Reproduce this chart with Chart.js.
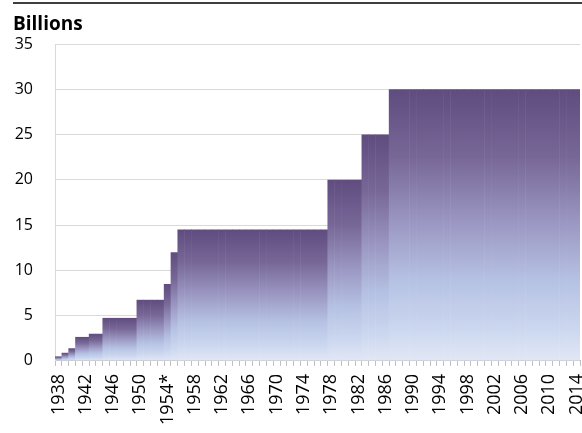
<!DOCTYPE html>
<html>
<head>
<meta charset="utf-8">
<script src="https://cdn.jsdelivr.net/npm/chart.js@4/dist/chart.umd.min.js"></script>
<style>
  html, body { margin: 0; padding: 0; background: #fff; }
  #wrap { width: 582px; height: 433px; position: relative; }
</style>
</head>
<body>
<div id="wrap"><canvas id="myChart"></canvas></div>
<script>
// years on the x axis (one bar per year)
const years = [
  "1938", "1939", "1940", "1941", "1942", "1943", "1944", "1945", "1946", "1947",
  "1948", "1949", "1950", "1951", "1952", "1953", "1954*", "1955", "1956", "1957",
  "1958", "1959", "1960", "1961", "1962", "1963", "1964", "1965", "1966", "1967",
  "1968", "1969", "1970", "1971", "1972", "1973", "1974", "1975", "1976", "1977",
  "1978", "1979", "1980", "1981", "1982", "1983", "1984", "1985", "1986", "1987",
  "1988", "1989", "1990", "1991", "1992", "1993", "1994", "1995", "1996", "1997",
  "1998", "1999", "2000", "2001", "2002", "2003", "2004", "2005", "2006", "2007",
  "2008", "2009", "2010", "2011", "2012", "2013", "2014"
];

// billions
const billions = [
  0.5, 0.9, 1.4, 2.65, 2.65, 3, 3, 4.75, 4.75, 4.75,
  4.75, 4.75, 6.75, 6.75, 6.75, 6.75, 8.5, 12, 14.5, 14.5,
  14.5, 14.5, 14.5, 14.5, 14.5, 14.5, 14.5, 14.5, 14.5, 14.5,
  14.5, 14.5, 14.5, 14.5, 14.5, 14.5, 14.5, 14.5, 14.5, 14.5,
  20, 20, 20, 20, 20, 25, 25, 25, 25, 30,
  30, 30, 30, 30, 30, 30, 30, 30, 30, 30,
  30, 30, 30, 30, 30, 30, 30, 30, 30, 30,
  30, 30, 30, 30, 30, 30, 30
];

const yTicks = [0, 5, 10, 15, 20, 25, 30, 35];

const ctx = document.getElementById("myChart").getContext("2d");

// each step gets its own gradient, from its top down to zero
const gradCache = {};
function barFill(context) {
  const chart = context.chart;
  if (!chart.chartArea) return "#9c99c4";
  const v = context.raw;
  const y = chart.scales.y;
  const top = y.getPixelForValue(v);
  const bottom = y.getPixelForValue(0);
  const key = v + "_" + top;
  if (gradCache[key]) return gradCache[key];
  const g = chart.ctx.createLinearGradient(0, top, 0, bottom);
  g.addColorStop(0, "#604c7f");
  g.addColorStop(0.25, "#776797");
  g.addColorStop(0.5, "#9c99c4");
  g.addColorStop(0.7, "#b5c1e2");
  g.addColorStop(0.88, "#cbd7ef");
  g.addColorStop(1, "#e2e7f5");
  gradCache[key] = g;
  return g;
}

// title and the dark rule above it
const headerPlugin = {
  id: "header",
  afterDraw(chart) {
    const c = chart.ctx;
    c.save();
    c.fillStyle = "#3f3f3f";
    c.fillRect(13, 2, chart.width - 13, 2);
    c.fillStyle = "#000";
    c.font = "bold 19px 'Open Sans'";
    c.textBaseline = "alphabetic";
    c.textAlign = "left";
    c.fillText("Billions", 13, 30);
    c.restore();
  }
};

const myChart = new Chart(ctx, {
  type: "bar",
  data: {
    labels: years,
    datasets: [
      {
        data: billions,
        backgroundColor: barFill,
        borderWidth: 0,
        inflateAmount: 0,
        // slight overlap so neighbouring years of one step show no seam
        barPercentage: 1.08,
        categoryPercentage: 1.0,
      },
    ],
  },
  options: {
    responsive: true,
    maintainAspectRatio: false,
    animation: false,
    layout: { padding: { top: 44, right: 2, bottom: 0, left: 0 } },
    plugins: {
      legend: { display: false },
      tooltip: { enabled: false },
    },
    scales: {
      x: {
        afterFit(scale) {
          scale.paddingRight = 0;
          scale.paddingLeft = 0;
        },
        grid: {
          display: true,
          drawOnChartArea: false,
          drawTicks: true,
          tickLength: 5,
          color: "#bfbfbf",
          offset: true,
        },
        border: { color: "#bfbfbf" },
        ticks: {
          autoSkip: false,
          maxRotation: 90,
          minRotation: 90,
          padding: 8,
          color: "#000",
          font: { family: "'Open Sans'", size: 18 },
          callback: function (val, i) {
            return i % 4 === 0 ? years[i] : "";
          },
        },
      },
      y: {
        min: 0,
        max: 35,
        afterFit(scale) { scale.width = 55; },
        afterBuildTicks(scale) {
          scale.ticks = yTicks.map((v) => ({ value: v }));
        },
        grid: { color: "#d9d9d9", drawTicks: false },
        border: { color: "#d9d9d9" },
        ticks: {
          padding: 22,
          color: "#000",
          font: { family: "'Open Sans'", size: 16 },
        },
      },
    },
  },
  plugins: [headerPlugin],
});
</script>
</body>
</html>
